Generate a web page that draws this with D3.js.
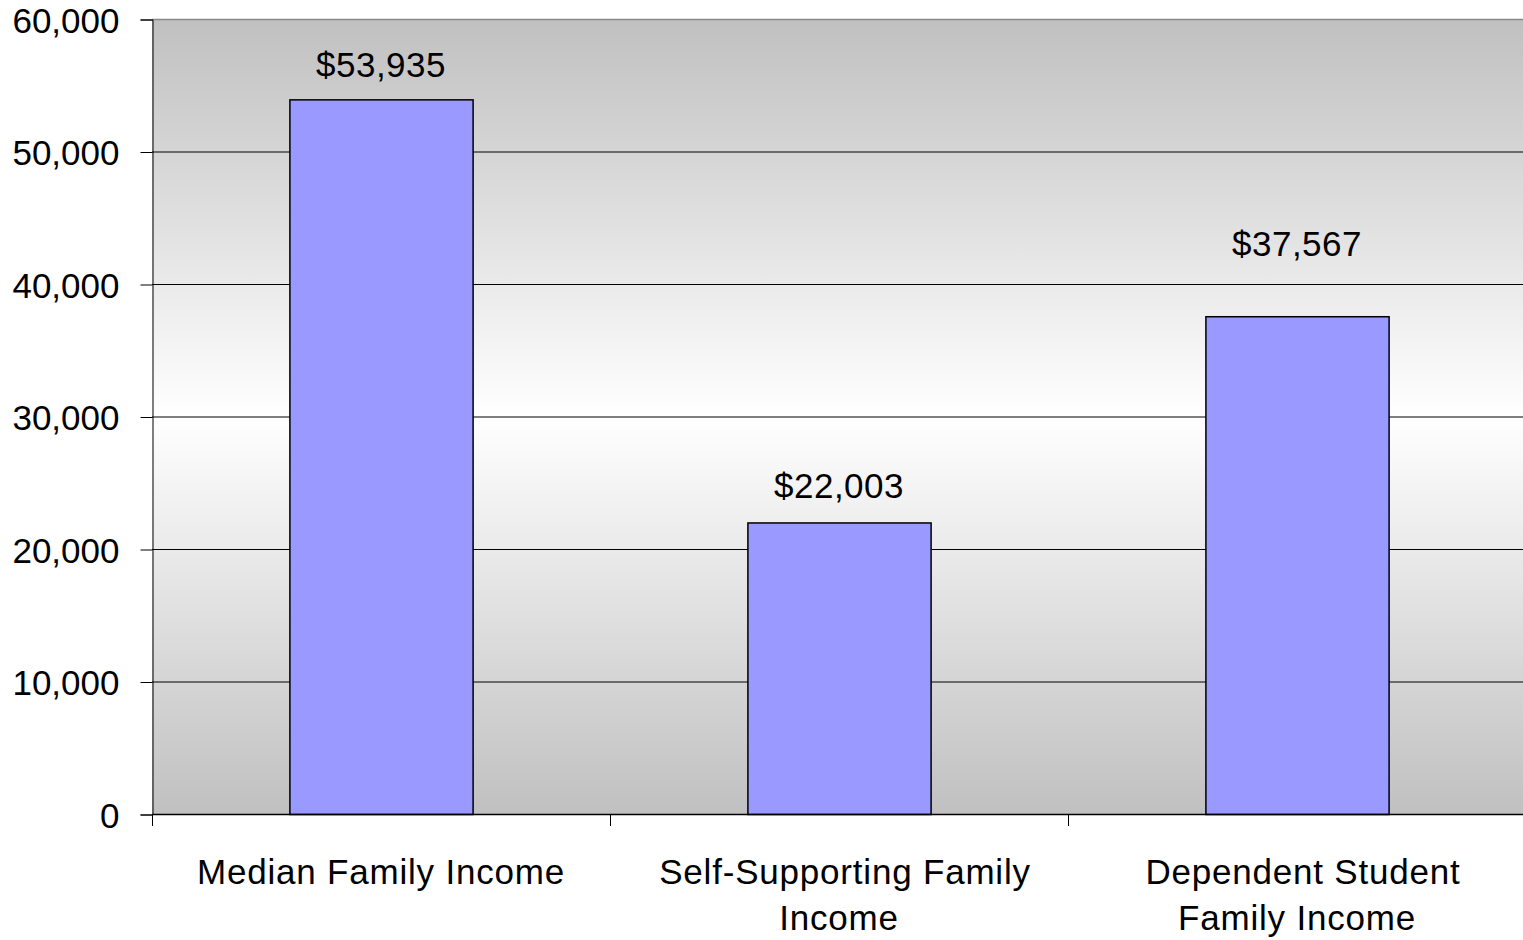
<!DOCTYPE html>
<html><head><meta charset="utf-8">
<script src="https://cdn.jsdelivr.net/npm/d3@7"></script>
<style>
html,body{margin:0;padding:0;background:#fff;}
svg{display:block;font-family:"Liberation Sans",Arial,sans-serif;}
</style></head>
<body>
<svg id="chart" width="1523" height="940"></svg>
<script>
const categories = [["Median Family Income"], ["Self-Supporting Family", "Income"], ["Dependent Student", "Family Income"]];
const values = [53935, 22003, 37567];
const valueLabels = ["$53,935", "$22,003", "$37,567"];
const yTicks = [0, 10000, 20000, 30000, 40000, 50000, 60000];

(function(){
const svg = d3.select("#chart");
const pL = 152, pR = 1526, pT = 19, pB = 814;
const labelLift = [22, 24, 60];

const x = d3.scaleBand().domain(d3.range(values.length)).range([pL, pR]).paddingInner(0.6).paddingOuter(0.3);
const xb = d3.scaleBand().domain(d3.range(values.length)).range([pL, pR]);
const y = d3.scaleLinear().domain([0, 60000]).range([pB, pT]);

const defs = svg.append("defs");
const g = defs.append("linearGradient").attr("id","bg").attr("x1",0).attr("y1",0).attr("x2",0).attr("y2",1);
g.append("stop").attr("offset","0%").attr("stop-color","#c0c0c0");
g.append("stop").attr("offset","50%").attr("stop-color","#ffffff");
g.append("stop").attr("offset","100%").attr("stop-color","#c0c0c0");

svg.append("rect").attr("x",pL).attr("y",pT).attr("width",pR-pL).attr("height",pB-pT).attr("fill","url(#bg)");

svg.append("g").selectAll("line").data(yTicks.filter(d=>d>0 && d<60000)).join("line")
  .attr("x1",pL).attr("x2",pR).attr("y1",d=>y(d)+0.5).attr("y2",d=>y(d)+0.5)
  .attr("stroke","#000").attr("stroke-width",1);
svg.append("line").attr("x1",pL).attr("x2",pR).attr("y1",pT+0.5).attr("y2",pT+0.5).attr("stroke","#888").attr("stroke-width",1.5);

const yAxis = d3.axisLeft(y).tickValues(yTicks).tickSize(12).tickPadding(21).tickFormat(d3.format(","));
const ya = svg.append("g").attr("transform",`translate(${pL+0.5},0.5)`).call(yAxis);
ya.select(".domain").attr("stroke","#000");
ya.selectAll(".tick line").attr("stroke","#000");
ya.selectAll("text").attr("font-size",35).attr("fill","#000").attr("font-family","'Liberation Sans',Arial,sans-serif").attr("dy","0.36em");

svg.append("g").selectAll("rect").data(values).join("rect")
  .attr("x",(d,i)=>x(i)+0.5).attr("y",d=>y(d)+0.5).attr("width",x.bandwidth()).attr("height",d=>pB-y(d))
  .attr("fill","#9999ff").attr("stroke","#000").attr("stroke-width",1.5);

svg.append("g").selectAll("text").data(values).join("text")
  .attr("x",(d,i)=>x(i)+x.bandwidth()/2).attr("y",(d,i)=>y(d)-labelLift[i])
  .attr("text-anchor","middle").attr("font-size",35).attr("letter-spacing","0.5px").attr("fill","#000")
  .text((d,i)=>valueLabels[i]);

svg.append("line").attr("x1",pL).attr("x2",pR).attr("y1",pB+0.5).attr("y2",pB+0.5).attr("stroke","#000").attr("stroke-width",1.5);
svg.append("g").selectAll("line").data(d3.range(values.length)).join("line")
  .attr("x1",i=>Math.round(xb(i))+0.5).attr("x2",i=>Math.round(xb(i))+0.5).attr("y1",pB).attr("y2",pB+12)
  .attr("stroke","#000").attr("stroke-width",1);

const cl = svg.append("g").selectAll("text").data(categories).join("text")
  .attr("text-anchor","middle").attr("font-size",35).attr("letter-spacing","0.8px").attr("fill","#000");
cl.each(function(lines,i){
  const t = d3.select(this);
  lines.forEach((ln,j)=>{
    t.append("tspan").attr("x",xb(i)+xb.bandwidth()/2 + (lines.length>1 && j===0 ? 6 : 0)).attr("y",884+j*46).text(ln);
  });
});
})();
</script>
</body></html>
